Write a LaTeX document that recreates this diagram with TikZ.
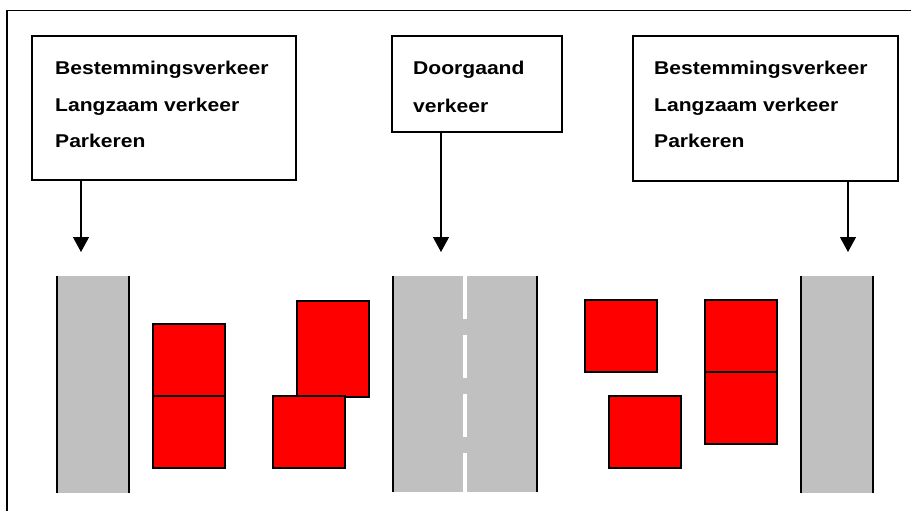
\documentclass[tikz,border=0pt]{standalone}
\usepackage{fontspec}
\setmainfont{Liberation Sans}[FakeStretch=1.14]
\usetikzlibrary{arrows.meta}

\definecolor{roadgray}{HTML}{C0C0C0}
\definecolor{carred}{HTML}{FF0000}

\tikzset{
  infobox/.style={draw=black, line width=1.3pt, fill=white, rectangle, inner sep=0pt},
  lbl/.style={anchor=base west, inner sep=0pt, font=\fontsize{18.5}{22}\selectfont\bfseries},
  pointer/.style={line width=1.3pt, -{Triangle[length=15pt,width=16pt]}},
  road/.style={fill=roadgray, draw=none},
  kerb/.style={line width=1.5pt, draw=black},
  car/.style={fill=carred, draw=black, line width=1.5pt},
  centreline/.style={draw=white, line width=4.5pt, dash pattern=on 43pt off 16pt},
}

\begin{document}
\begin{tikzpicture}[x=1pt, y=-1pt]
\useasboundingbox (0,0) rectangle (911,511);

% outer frame (open to the right and bottom)
\draw[line width=1.3pt] (911,10.5) -- (7,10.5) -- (7,511);

% label boxes
\node[infobox, minimum width=264pt, minimum height=144pt] (lbox) at (164,108) {};
\node[infobox, minimum width=170pt, minimum height=96pt] (mbox) at (477,84) {};
\node[infobox, minimum width=265pt, minimum height=145pt] (rbox) at (765.5,108.5) {};

\node[lbl] (l1) at (55,75) {Bestemmingsverkeer};
\node[lbl] (l2) at (55,111) {Langzaam verkeer};
\node[lbl] (l3) at (55,147) {Parkeren};

\node[lbl] (m1) at (413,75) {Doorgaand};
\node[lbl] (m2) at (413,112) {verkeer};

\node[lbl] (r1) at (654,75) {Bestemmingsverkeer};
\node[lbl] (r2) at (654,111) {Langzaam verkeer};
\node[lbl] (r3) at (654,147) {Parkeren};

% arrow targets just above the roads
\coordinate (la) at (81,252);
\coordinate (ma) at (441,252);
\coordinate (ra) at (848,252);

\draw[pointer] (lbox.south -| la) -- (la);
\draw[pointer] (mbox.south -| ma) -- (ma);
\draw[pointer] (rbox.south -| ra) -- (ra);

% roads
\fill[road] (57,276) rectangle (129,493);
\draw[kerb] (57,276) -- (57,493) (129,276) -- (129,493);

\fill[road] (393,276) rectangle (537,492);
\draw[centreline] (465,276) -- (465,492);
\draw[kerb] (393,276) -- (393,492) (537,276) -- (537,492);

\fill[road] (801,276) rectangle (873,493);
\draw[kerb] (801,276) -- (801,493) (873,276) -- (873,493);

% parked cars
\draw[car] (153,324) rectangle (225,396);
\draw[car] (153,396) rectangle (225,468);
\draw[car] (297,301) rectangle (369,397);
\draw[car] (273,396) rectangle (345,468);

\draw[car] (585,300) rectangle (657,372);
\draw[car] (609,396) rectangle (681,468);
\draw[car] (705,300) rectangle (777,372);
\draw[car] (705,372) rectangle (777,444);
\end{tikzpicture}
\end{document}
